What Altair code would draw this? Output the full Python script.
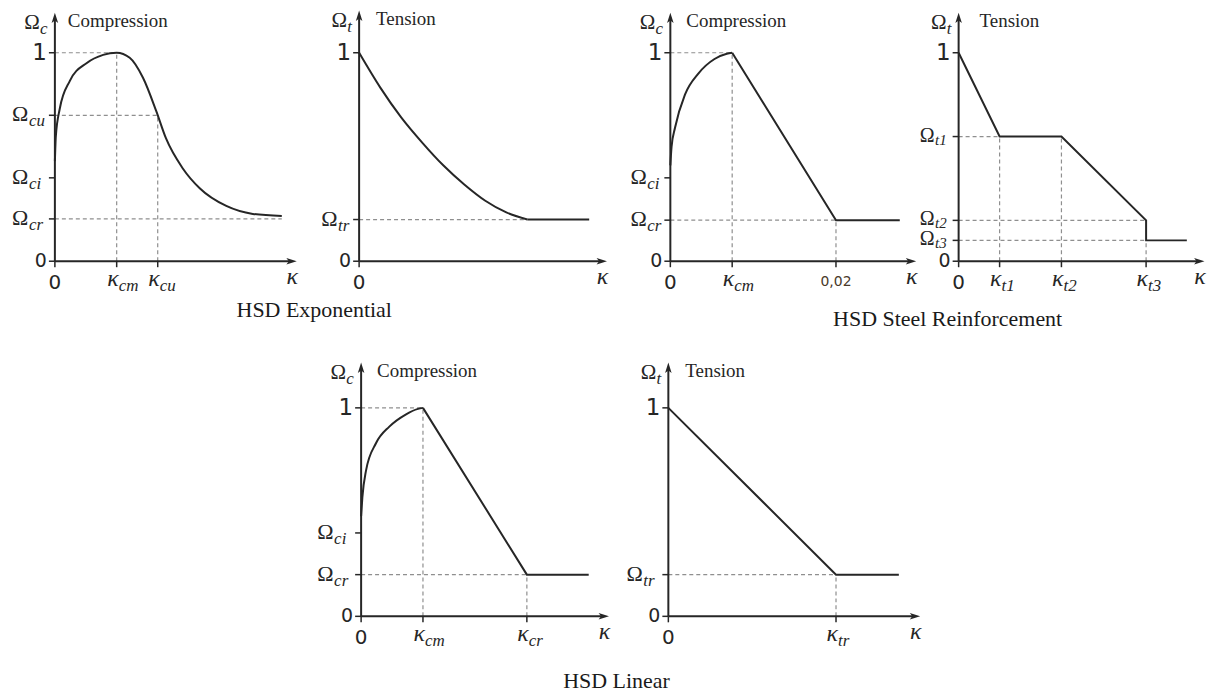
import altair as alt
import pandas as pd

SERIF = "Liberation Serif"
SANS = "DejaVu Sans"
INK = "#262626"
GUIDE = "#8f8f8f"

# ------------------------------------------------------------------ data
# HSD Exponential - compression
p1_curve_x = [0.0, 0.004, 0.02, 0.062, 0.131, 0.20, 0.256, 0.31, 0.365, 0.42, 0.46, 0.53, 0.60, 0.71, 0.82, 0.94]
p1_curve_y = [0.48, 0.60, 0.73, 0.865, 0.95, 0.99, 1.0, 0.976, 0.88, 0.72, 0.59, 0.445, 0.35, 0.265, 0.227, 0.217]
p1_poly_x = []
p1_poly_y = []
p1_guides = [(0, 1, 0.256, 1), (0.256, 0, 0.256, 1), (0, 0.70, 0.426, 0.70),
             (0.426, 0, 0.426, 0.70), (0, 0.203, 0.94, 0.203)]
p1_ysym_vals = [0.70, 0.40, 0.203]
p1_ysym_subs = ["cu", "ci", "cr"]
p1_xsym_vals = [0.256, 0.426]
p1_xsym_subs = ["cm", "cu"]

# HSD Exponential - tension
p2_curve_x = [0.0, 0.085, 0.17, 0.255, 0.34, 0.425, 0.51, 0.595, 0.68]
p2_curve_y = [1.0, 0.834, 0.69, 0.569, 0.46, 0.368, 0.29, 0.234, 0.20]
p2_poly_x = [0.68, 0.93]
p2_poly_y = [0.20, 0.20]
p2_guides = [(0, 0.20, 0.68, 0.20)]
p2_ysym_vals = [0.20]
p2_ysym_subs = ["tr"]
p2_xsym_vals = []
p2_xsym_subs = []

# HSD Steel Reinforcement - compression
p3_curve_x = [0.0, 0.005, 0.019, 0.06, 0.114, 0.18, 0.23, 0.252]
p3_curve_y = [0.46, 0.55, 0.64, 0.80, 0.90, 0.97, 0.995, 1.0]
p3_poly_x = [0.252, 0.675, 0.935]
p3_poly_y = [1.0, 0.197, 0.197]
p3_guides = [(0, 1, 0.252, 1), (0.252, 0, 0.252, 1), (0, 0.197, 0.675, 0.197), (0.675, 0, 0.675, 0.197)]
p3_ysym_vals = [0.40, 0.197]
p3_ysym_subs = ["ci", "cr"]
p3_xsym_vals = [0.252]
p3_xsym_subs = ["cm"]
p3_xextra_vals = [0.675]
p3_xextra_text = ["0,02"]

# HSD Steel Reinforcement - tension
p4_curve_x = []
p4_curve_y = []
p4_poly_x = [0.0, 0.167, 0.419, 0.764, 0.764, 0.93]
p4_poly_y = [1.0, 0.598, 0.598, 0.196, 0.10, 0.10]
p4_guides = [(0, 0.598, 0.167, 0.598), (0.167, 0, 0.167, 0.598), (0.419, 0, 0.419, 0.598),
             (0, 0.196, 0.764, 0.196), (0, 0.10, 0.764, 0.10), (0.764, 0, 0.764, 0.10)]
p4_ysym_vals = [0.598, 0.196, 0.10]
p4_ysym_subs = ["t1", "t2", "t3"]
p4_xsym_vals = [0.167, 0.419, 0.764]
p4_xsym_subs = ["t1", "t2", "t3"]

# HSD Linear - compression
p5_curve_x = [0.0, 0.005, 0.02, 0.06, 0.114, 0.18, 0.23, 0.25]
p5_curve_y = [0.48, 0.57, 0.70, 0.83, 0.91, 0.968, 0.995, 1.0]
p5_poly_x = [0.25, 0.67, 0.92]
p5_poly_y = [1.0, 0.20, 0.20]
p5_guides = [(0, 1, 0.25, 1), (0.25, 0, 0.25, 1), (0, 0.20, 0.67, 0.20), (0.67, 0, 0.67, 0.20)]
p5_ysym_vals = [0.40, 0.20]
p5_ysym_subs = ["ci", "cr"]
p5_xsym_vals = [0.25, 0.67]
p5_xsym_subs = ["cm", "cr"]

# HSD Linear - tension
p6_curve_x = []
p6_curve_y = []
p6_poly_x = [0.0, 0.667, 0.917]
p6_poly_y = [1.0, 0.20, 0.20]
p6_guides = [(0, 0.20, 0.667, 0.20), (0.667, 0, 0.667, 0.20)]
p6_ysym_vals = [0.20]
p6_ysym_subs = ["tr"]
p6_xsym_vals = [0.667]
p6_xsym_subs = ["tr"]

ynum_vals = [0, 1]
ynum_text = ["0", "1"]
NUM_SIZE = {"0": 19, "1": 23}

captions = ["HSD Exponential", "HSD Steel Reinforcement", "HSD Linear"]

# ------------------------------------------------------------------ layout
UY = 209.0
ARROW = "M0,-1L0.6,0.9L0,0.45L-0.6,0.9Z"


def X(dom):
    return alt.X("x:Q", scale=alt.Scale(domain=dom, nice=False, zero=False), axis=None)


def Y(dom):
    return alt.Y("y:Q", scale=alt.Scale(domain=dom, nice=False, zero=False), axis=None)


def panel(P):
    w, h = P["w"], P["h"]
    xd = [-P["ox"] / P["ux"], (w - P["ox"]) / P["ux"]]
    yd = [-(h - P["oy"]) / UY, P["oy"] / UY]
    ax_dx = 5.0 / P["ux"]
    ay_dy = 5.0 / UY
    xe = 1.0 - ax_dx
    ye = P["ytip"] - ay_dy
    ofs = P.get("ofs", 22)
    sfs = P.get("sfs", 17)
    ody = P.get("ody", 6)
    sdy = P.get("sdy", 11)
    L = []

    def C(df):
        return alt.Chart(pd.DataFrame(df))

    # dashed guides
    if P["guides"]:
        g = pd.DataFrame(P["guides"], columns=["x", "y", "x2", "y2"])
        L.append(alt.Chart(g).mark_rule(color=GUIDE, strokeWidth=1.2, strokeDash=[4, 3]).encode(
            x=X(xd), y=Y(yd), x2="x2:Q", y2="y2:Q"))
    # axes lines
    L.append(C({"x": [0.0, 0.0], "y": [0.0, 0.0], "x2": [xe, 0.0], "y2": [0.0, ye]}).mark_rule(
        color=INK, strokeWidth=2).encode(x=X(xd), y=Y(yd), x2="x2:Q", y2="y2:Q"))
    # arrow heads
    L.append(C({"x": [0.0], "y": [ye]}).mark_point(shape=ARROW, filled=True, size=120, color=INK,
                                                   opacity=1).encode(x=X(xd), y=Y(yd)))
    L.append(C({"x": [xe], "y": [0.0]}).mark_point(shape=ARROW, filled=True, size=120, color=INK,
                                                   opacity=1, angle=90).encode(x=X(xd), y=Y(yd)))
    # y ticks
    yt = list(ynum_vals) + list(P["ysym_vals"])
    L.append(C({"x": [0.0] * len(yt), "x2": [0.0] * len(yt), "y": yt}).mark_rule(
        color=INK, strokeWidth=1.5, x2Offset=-6).encode(x=X(xd), x2="x2:Q", y=Y(yd)))
    # x ticks
    xt = [0.0] + list(P["xsym_vals"]) + list(P.get("xextra_vals", []))
    L.append(C({"x": xt, "y": [0.0] * len(xt), "y2": [0.0] * len(xt)}).mark_rule(
        color=INK, strokeWidth=1.5, y2Offset=6).encode(x=X(xd), y=Y(yd), y2="y2:Q"))
    # curves
    if P["curve_x"]:
        L.append(C({"x": P["curve_x"], "y": P["curve_y"]}).mark_line(
            interpolate="monotone", color=INK, strokeWidth=2).encode(x=X(xd), y=Y(yd)))
    if P["poly_x"]:
        L.append(C({"x": P["poly_x"], "y": P["poly_y"], "o": list(range(len(P["poly_x"])))}).mark_line(
            interpolate="linear", color=INK, strokeWidth=2, strokeJoin="miter").encode(
            x=X(xd), y=Y(yd), order="o:Q"))
    # y numeric labels
    L.append(C({"x": [0.0, 0.0], "y": ynum_vals, "t": ynum_text,
                "s": [NUM_SIZE[t] for t in ynum_text]}).mark_text(
        align="right", baseline="middle", dx=-8, font=SANS, color=INK).encode(
        x=X(xd), y=Y(yd), text="t:N", size=alt.Size("s:Q", scale=None, legend=None)))
    # y symbol labels
    if P["ysym_vals"]:
        n = len(P["ysym_vals"])
        L.append(C({"x": [0.0] * n, "y": P["ysym_vals"], "t": ["\u03a9"] * n}).mark_text(
            align="left", baseline="alphabetic", dx=P["odx"], dy=ody, font=SERIF, fontSize=ofs,
            color=INK).encode(x=X(xd), y=Y(yd), text="t:N"))
        L.append(C({"x": [0.0] * n, "y": P["ysym_vals"], "t": P["ysym_subs"]}).mark_text(
            align="left", baseline="alphabetic", dx=P["odx"] + ofs * 0.77, dy=sdy, font=SERIF,
            fontSize=sfs, fontStyle="italic", color=INK).encode(x=X(xd), y=Y(yd), text="t:N"))
    # x numeric label 0
    L.append(C({"x": [0.0], "y": [0.0], "t": ["0"]}).mark_text(
        align="center", baseline="alphabetic", dy=28, font=SANS, fontSize=20, color=INK).encode(
        x=X(xd), y=Y(yd), text="t:N"))
    if P.get("xextra_vals"):
        n = len(P["xextra_vals"])
        L.append(C({"x": P["xextra_vals"], "y": [0.0] * n, "t": P["xextra_text"]}).mark_text(
            align="center", baseline="alphabetic", dy=25, font=SANS, fontSize=14, color="#4a3a2a").encode(
            x=X(xd), y=Y(yd), text="t:N"))
    # x symbol labels
    if P["xsym_vals"]:
        n = len(P["xsym_vals"])
        L.append(C({"x": P["xsym_vals"], "y": [0.0] * n, "t": ["\u03ba"] * n}).mark_text(
            align="right", baseline="alphabetic", dx=2, dy=25, font=SERIF, fontSize=24,
            fontStyle="italic", color=INK).encode(x=X(xd), y=Y(yd), text="t:N"))
        L.append(C({"x": P["xsym_vals"], "y": [0.0] * n, "t": P["xsym_subs"]}).mark_text(
            align="left", baseline="alphabetic", dx=2, dy=30, font=SERIF, fontSize=17,
            fontStyle="italic", color=INK).encode(x=X(xd), y=Y(yd), text="t:N"))
    # axis names
    L.append(C({"x": [1.0], "y": [0.0], "t": ["\u03ba"]}).mark_text(
        align="center", baseline="alphabetic", dx=-4, dy=23, font=SERIF, fontSize=24,
        fontStyle="italic", color=INK).encode(x=X(xd), y=Y(yd), text="t:N"))
    L.append(C({"x": [0.0], "y": [P["ytip"]], "t": ["\u03a9"]}).mark_text(
        align="right", baseline="alphabetic", dx=P["ndx"], dy=16, font=SERIF, fontSize=21,
        color=INK).encode(x=X(xd), y=Y(yd), text="t:N"))
    L.append(C({"x": [0.0], "y": [P["ytip"]], "t": [P["nsub"]]}).mark_text(
        align="left", baseline="alphabetic", dx=P["ndx"], dy=21, font=SERIF, fontSize=17,
        fontStyle="italic", color=INK).encode(x=X(xd), y=Y(yd), text="t:N"))
    # panel title
    L.append(C({"x": [0.0], "y": [P["ytip"]], "t": [P["title"]]}).mark_text(
        align="left", baseline="alphabetic", dx=P["tdx"], dy=14, font=SERIF, fontSize=19,
        color=INK).encode(x=X(xd), y=Y(yd), text="t:N"))
    # caption
    if P.get("cap"):
        L.append(C({"x": [P["cap_x"]], "y": [P["cap_y"]], "t": [P["cap"]]}).mark_text(
            align="center", baseline="alphabetic", font=SERIF, fontSize=22, color="#1a1a1a").encode(
            x=X(xd), y=Y(yd), text="t:N"))
    return alt.layer(*L).properties(width=w, height=h)


def P(prefix, **kw):
    g = globals()
    d = dict(curve_x=g[prefix + "_curve_x"], curve_y=g[prefix + "_curve_y"],
             poly_x=g[prefix + "_poly_x"], poly_y=g[prefix + "_poly_y"],
             guides=g[prefix + "_guides"],
             ysym_vals=g[prefix + "_ysym_vals"], ysym_subs=g[prefix + "_ysym_subs"],
             xsym_vals=g[prefix + "_xsym_vals"], xsym_subs=g[prefix + "_xsym_subs"])
    d.update(kw)
    return d


TOP = dict(h=327, oy=253)
BOT = dict(h=357, oy=282)

p1 = panel(P("p1", w=302, ox=47, ux=242, ytip=1.19, odx=-43, ndx=-15, nsub="c", title="Compression",
             tdx=13, cap=captions[0], cap_x=(315 - 55) / 242, cap_y=(261 - 317) / UY, **TOP))
p2 = panel(P("p2", w=310, ox=50, ux=248, ytip=1.20, odx=-38, ndx=-12, nsub="t", title="Tension",
             tdx=17, **TOP))
p3 = panel(P("p3", w=305, ox=52, ux=246, ytip=1.19, odx=-40, ndx=-15, nsub="c", title="Compression",
             tdx=16, cap=captions[1], cap_x=(950 - 672) / 246, cap_y=(261 - 326) / UY,
             xextra_vals=p3_xextra_vals, xextra_text=p3_xextra_text, **TOP))
p4 = panel(P("p4", w=285, ox=36, ux=246, ytip=1.19, odx=-39, ndx=-12, nsub="t", title="Tension",
             tdx=21, ofs=20, sfs=15, ody=5, sdy=8, **TOP))
p5 = panel(P("p5", w=632, ox=354, ux=248, ytip=1.215, odx=-44, ndx=-15, nsub="c", title="Compression",
             tdx=16, cap=captions[2], cap_x=(618 - 362) / 248, cap_y=(617 - 689) / UY, **BOT))
p6 = panel(P("p6", w=570, ox=30, ux=252, ytip=1.215, odx=-42, ndx=-12, nsub="t", title="Tension",
             tdx=17, **BOT))

top = alt.hconcat(p1, p2, p3, p4, spacing=0, bounds="flush")
bottom = alt.hconcat(p5, p6, spacing=0, bounds="flush")
chart = alt.vconcat(top, bottom, spacing=0).properties(padding=0).configure_view(stroke=None)

chart.save("out.html", embed_options={"renderer": "svg", "actions": False})
